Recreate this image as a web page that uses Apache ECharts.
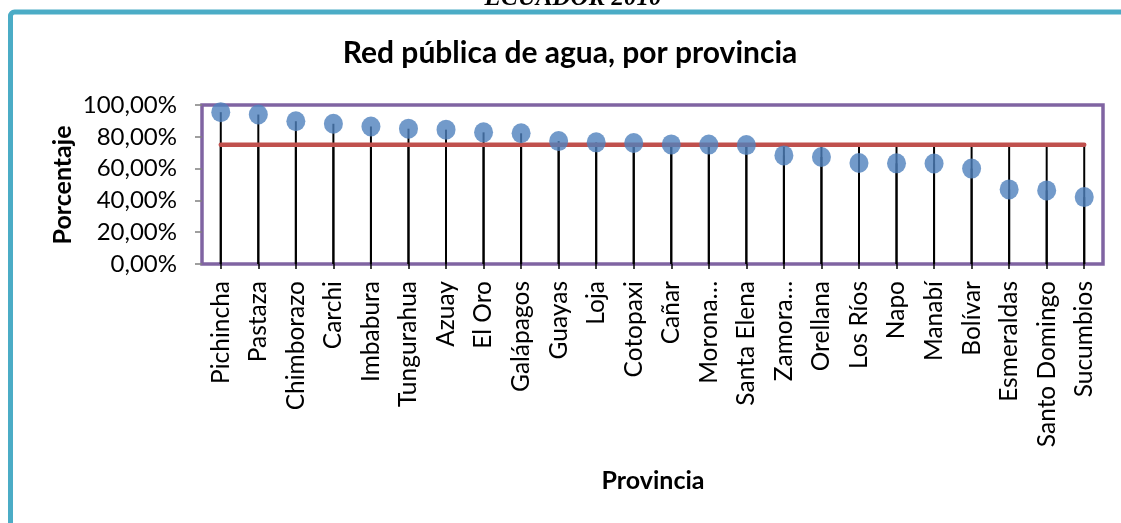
<!DOCTYPE html>
<html>
<head>
<meta charset="utf-8">
<script src="https://cdn.jsdelivr.net/npm/echarts@6/dist/echarts.min.js"></script>
<style>
  html, body { margin: 0; padding: 0; background: #ffffff; }
  #chart { width: 1121px; height: 523px; }
</style>
</head>
<body>
<div id="chart"></div>
<script>
// Provincias ordenadas de mayor a menor cobertura
const provincias = [
  'Pichincha', 'Pastaza', 'Chimborazo', 'Carchi', 'Imbabura', 'Tungurahua',
  'Azuay', 'El Oro', 'Galápagos', 'Guayas', 'Loja', 'Cotopaxi', 'Cañar',
  'Morona Santiago', 'Santa Elena', 'Zamora Chinchipe', 'Orellana', 'Los Ríos',
  'Napo', 'Manabí', 'Bolívar', 'Esmeraldas', 'Santo Domingo', 'Sucumbios'
];

// Porcentaje de viviendas con red pública de agua
const redPublica = [
  95.5, 94.0, 89.8, 88.2, 86.5, 85.1, 84.5, 82.8, 82.2, 77.3, 76.5, 76.1,
  75.2, 75.1, 74.8, 68.3, 67.3, 63.5, 63.3, 63.2, 60.0, 46.9, 46.3, 42.1
];

// Promedio nacional
const promedio = [
  75.0, 75.0, 75.0, 75.0, 75.0, 75.0, 75.0, 75.0, 75.0, 75.0, 75.0, 75.0,
  75.0, 75.0, 75.0, 75.0, 75.0, 75.0, 75.0, 75.0, 75.0, 75.0, 75.0, 75.0
];

const ticksY = { min: 0, max: 100, interval: 20 };

const FONT = 'Lato';

const chart = echarts.init(document.getElementById('chart'), null, { renderer: 'canvas' });

function etiquetaProvincia(nombre) {
  // nombres largos se recortan a la primera palabra
  if (nombre.length > 14) return nombre.split(' ')[0] + '…';
  return nombre;
}

const option = {
  animation: false,
  backgroundColor: '#ffffff',
  textStyle: { fontFamily: FONT },
  graphic: [
    {
      type: 'rect',
      shape: { x: 10.5, y: 12, width: 1300, height: 700, r: 4 },
      style: { fill: 'none', stroke: '#4BACC6', lineWidth: 5 },
      silent: true, z: 0
    },
    {
      type: 'text',
      x: 573, y: 11,
      style: {
        text: 'ECUADOR 2010',
        fontFamily: 'Liberation Serif', fontStyle: 'italic', fontWeight: 'bold',
        fontSize: 25, fill: '#000000', align: 'center', verticalAlign: 'bottom'
      },
      silent: true
    },
    {
      type: 'text',
      x: 570, y: 53,
      style: {
        text: 'Red pública de agua, por provincia',
        fontFamily: FONT, fontWeight: 'bold', fontSize: 30,
        fill: '#000000', align: 'center', verticalAlign: 'middle'
      },
      silent: true
    },
    {
      type: 'text',
      x: 63, y: 185, rotation: Math.PI / 2,
      style: {
        text: 'Porcentaje',
        fontFamily: FONT, fontWeight: 'bold', fontSize: 25,
        fill: '#000000', align: 'center', verticalAlign: 'middle'
      },
      silent: true
    },
    {
      type: 'text',
      x: 653, y: 481,
      style: {
        text: 'Provincia',
        fontFamily: FONT, fontWeight: 'bold', fontSize: 25,
        fill: '#000000', align: 'center', verticalAlign: 'middle'
      },
      silent: true
    }
  ],
  grid: {
    left: 202, right: 18, top: 105, height: 159,
    show: true, borderColor: '#8064A2', borderWidth: 3.5,
    backgroundColor: 'transparent'
  },
  xAxis: {
    type: 'category',
    data: provincias,
    boundaryGap: true,
    axisLine: { show: false },
    axisTick: { show: true, alignWithLabel: true, length: 5, lineStyle: { color: '#000000', width: 1.5 } },
    axisLabel: {
      rotate: 90, margin: 17, fontSize: 24.5, color: '#000000', fontFamily: FONT,
      interval: 0, formatter: etiquetaProvincia
    },
    splitLine: { show: false }
  },
  yAxis: {
    type: 'value',
    min: ticksY.min, max: ticksY.max, interval: ticksY.interval,
    axisLine: { show: false },
    axisTick: { show: true, length: 7, lineStyle: { color: '#808080', width: 1.5 } },
    axisLabel: {
      margin: 25, fontSize: 24, color: '#000000', fontFamily: FONT,
      formatter: v => v.toFixed(2).replace('.', ',') + '%'
    },
    splitLine: { show: false }
  },
  series: [
    {
      name: 'caída red pública',
      type: 'bar', data: redPublica,
      barWidth: 2, barGap: '-100%',
      itemStyle: { color: '#000000' },
      silent: true, z: 1
    },
    {
      name: 'caída promedio',
      type: 'bar', data: promedio,
      barWidth: 2, barGap: '-100%',
      itemStyle: { color: '#000000' },
      silent: true, z: 1
    },
    {
      name: 'Promedio nacional',
      type: 'line', data: promedio,
      showSymbol: false, symbol: 'none',
      lineStyle: { color: '#C0504D', width: 4.5, cap: 'round' },
      silent: true, z: 3
    },
    {
      name: 'Red pública de agua',
      type: 'scatter', data: redPublica,
      symbol: 'circle', symbolSize: [19, 20],
      itemStyle: { color: '#4F81BD' },
      silent: true, z: 4
    }
  ]
};

chart.setOption(option);
</script>
</body>
</html>
